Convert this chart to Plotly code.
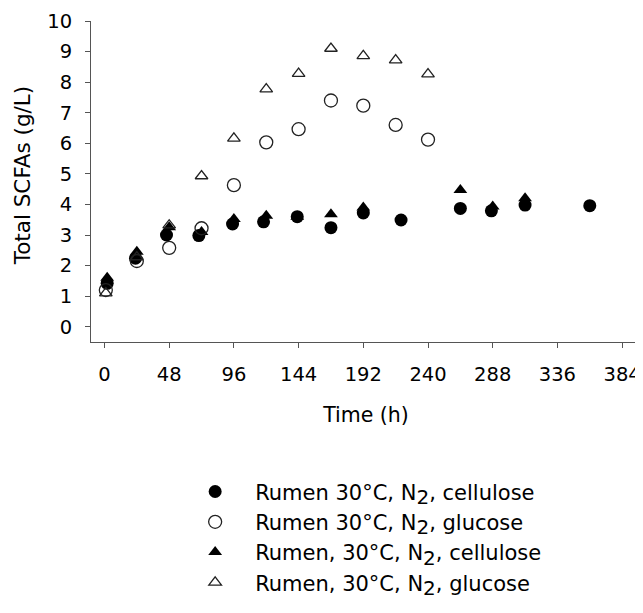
import plotly.graph_objects as go

# Data
t_cell_a = [2, 23, 46, 70, 95, 118, 143, 168, 192, 220, 264, 287, 312, 360]
y_cell_a = [1.42, 2.24, 3.0, 2.98, 3.36, 3.43, 3.6, 3.24, 3.72, 3.49, 3.87, 3.79, 3.98, 3.96]

t_gluc_a = [1, 24, 48, 72, 96, 120, 144, 168, 192, 216, 240]
y_gluc_a = [1.2, 2.15, 2.58, 3.22, 4.63, 6.03, 6.46, 7.40, 7.23, 6.6, 6.12]

t_cell_b = [2, 24, 48, 72, 96, 120, 143, 168, 192, 264, 288, 312]
y_cell_b = [1.6, 2.45, 3.25, 3.1, 3.52, 3.63, 3.6, 3.68, 3.9, 4.47, 3.93, 4.2]

t_gluc_b = [1, 24, 48, 72, 96, 120, 144, 168, 192, 216, 240]
y_gluc_b = [1.1, 2.28, 3.32, 4.93, 6.16, 7.77, 8.28, 9.1, 8.86, 8.72, 8.26]

x_ticks = [0, 48, 96, 144, 192, 240, 288, 336, 384]
y_ticks = list(range(0, 11))

SUB = '<sub><span style="font-size:20px">2</span></sub>'
names = [
    "Rumen 30°C, N" + SUB + ", cellulose",
    "Rumen 30°C, N" + SUB + ", glucose",
    "Rumen, 30°C, N" + SUB + ", cellulose",
    "Rumen, 30°C, N" + SUB + ", glucose",
]

FAM = "DejaVu Sans, Liberation Sans, Arial, sans-serif"

fig = go.Figure()
fig.add_trace(go.Scatter(x=t_cell_b, y=y_cell_b, mode="markers", name=names[2],
                         legendgroup="c", legendrank=3,
                         marker=dict(symbol="triangle-up", size=12, color="black",
                                     line=dict(width=0))))
fig.add_trace(go.Scatter(x=t_cell_a, y=y_cell_a, mode="markers", name=names[0],
                         legendgroup="a", legendrank=1,
                         marker=dict(symbol="circle", size=13, color="black",
                                     line=dict(width=0))))
fig.add_trace(go.Scatter(x=t_gluc_a, y=y_gluc_a, mode="markers", name=names[1],
                         legendgroup="b", legendrank=2,
                         marker=dict(symbol="circle-open", size=13, color="#222",
                                     line=dict(width=1.3))))
fig.add_trace(go.Scatter(x=t_gluc_b, y=y_gluc_b, mode="markers", name=names[3],
                         legendgroup="d", legendrank=4,
                         marker=dict(symbol="triangle-up-open", size=11, color="#222",
                                     line=dict(width=1.3))))

tick_font = dict(family=FAM, size=19.5, color="black")

fig.update_layout(
    width=635, height=605,
    margin=dict(l=83, r=2, t=13, b=271),
    paper_bgcolor="white", plot_bgcolor="white",
    font=tick_font,
    showlegend=True,
    legend=dict(x=0.153, y=-0.403, xanchor="left", yanchor="top",
                font=dict(family=FAM, size=21, color="black"),
                bgcolor="rgba(0,0,0,0)", traceorder="normal",
                itemwidth=70, tracegroupgap=7),
    xaxis=dict(range=[-10, 398], tickvals=x_ticks, ticktext=[str(v) for v in x_ticks],
               showgrid=False, zeroline=False, showline=True, linecolor="#555",
               linewidth=1, ticks="outside", ticklen=5, tickcolor="#555",
               automargin=False, tickfont=tick_font, ticklabelstandoff=10,
               title=dict(text="Time (h)", font=dict(family=FAM, size=20.5, color="black"),
                          standoff=22)),
    yaxis=dict(range=[-0.5, 10], tickvals=y_ticks, ticktext=[str(v) for v in y_ticks],
               showgrid=False, zeroline=False, showline=True, linecolor="#555",
               linewidth=1, ticks="outside", ticklen=5, tickcolor="#555",
               automargin=False, tickfont=tick_font, ticklabelstandoff=9),
    annotations=[dict(text="Total SCFAs (g/L)", textangle=-90, showarrow=False,
                      xref="paper", yref="paper", x=-0.125, y=0.52,
                      xanchor="center", yanchor="middle",
                      font=dict(family=FAM, size=21.5, color="black"))],
)

fig.write_html("out.html")
